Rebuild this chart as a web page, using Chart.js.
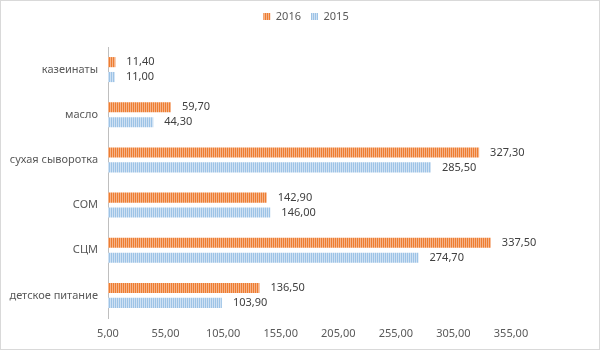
<!DOCTYPE html>
<html>
<head>
<meta charset="utf-8">
<script src="https://cdn.jsdelivr.net/npm/chart.js@4/dist/chart.umd.min.js"></script>
<style>
  html, body { margin: 0; padding: 0; background: #fff; }
  #wrap { width: 598px; height: 348px; border: 1px solid #d9d9d9; }
</style>
</head>
<body>
<div id="wrap"><canvas id="grafico" width="598" height="348"></canvas></div>
<script>
/* Datos */
const categorias = ['казеинаты', 'масло', 'сухая сыворотка', 'СОМ', 'СЦМ', 'детское питание'];
const valores2016 = [11.40, 59.70, 327.30, 142.90, 337.50, 136.50];
const valores2015 = [11.00, 44.30, 285.50, 146.00, 274.70, 103.90];
const series = ['2016', '2015'];
const ejeMin = 5;
const ejeMax = 355;
const ejePaso = 50;

/* Patron de rayas verticales */
function rayas(oscuro, claro) {
  const c = document.createElement('canvas');
  c.width = 2;
  c.height = 1;
  const g = c.getContext('2d');
  g.fillStyle = oscuro;
  g.fillRect(0, 0, 1, 1);
  g.fillStyle = claro;
  g.fillRect(1, 0, 1, 1);
  return g.createPattern(c, 'repeat');
}

const naranja = rayas('#ed7d31', '#f6b48a');
const azul = rayas('#9dc3e6', '#cfe1f3');

const fmt = (v) => v.toFixed(2).replace('.', ',');

/* Etiquetas de valores */
const etiquetas = {
  id: 'etiquetas',
  afterDatasetsDraw(chart) {
    const ctx = chart.ctx;
    ctx.save();
    ctx.font = '11px "Noto Sans", sans-serif';
    ctx.fillStyle = '#404040';
    ctx.textAlign = 'left';
    ctx.textBaseline = 'middle';
    chart.data.datasets.forEach((ds, i) => {
      chart.getDatasetMeta(i).data.forEach((bar, j) => {
        ctx.fillText(fmt(ds.data[j]), bar.x + 11, bar.y);
      });
    });
    ctx.restore();
  }
};

/* Leyenda: mas alta y centrada en todo el ancho */
const ajusteLeyenda = {
  id: 'ajusteLeyenda',
  beforeInit(chart) {
    const fitOrig = chart.legend.fit;
    chart.legend.fit = function () {
      fitOrig.bind(chart.legend)();
      this.height = 46;
    };
  },
  afterLayout(chart) {
    chart.legend.left = 12;
    chart.legend.right = 598;
    chart.legend.width = 586;
  }
};

const ctx = document.getElementById('grafico').getContext('2d');

new Chart(ctx, {
  type: 'bar',
  data: {
    labels: categorias,
    datasets: [
      { label: series[0], data: valores2016, backgroundColor: naranja, borderWidth: 0 },
      { label: series[1], data: valores2015, backgroundColor: azul, borderWidth: 0 }
    ]
  },
  options: {
    indexAxis: 'y',
    responsive: false,
    animation: false,
    categoryPercentage: 0.66,
    barPercentage: 0.68,
    layout: { padding: { top: 0, right: 88, left: 4, bottom: 0 } },
    scales: {
      x: {
        min: ejeMin,
        max: ejeMax,
        ticks: {
          stepSize: ejePaso,
          color: '#595959',
          font: { family: '"Noto Sans", sans-serif', size: 11 },
          padding: 9,
          callback: (v) => fmt(v)
        },
        grid: { display: false, drawTicks: false },
        border: { display: false },
        afterFit: (s) => { s.height = 31; }
      },
      y: {
        ticks: {
          color: '#595959',
          font: { family: '"Noto Sans", sans-serif', size: 11 },
          padding: 10
        },
        grid: { display: false, drawTicks: false },
        border: { display: true, color: '#bfbfbf' },
        afterFit: (s) => { s.width = 103; }
      }
    },
    plugins: {
      legend: {
        position: 'top',
        labels: {
          boxWidth: 7,
          boxHeight: 7,
          color: '#595959',
          font: { family: '"Noto Sans", sans-serif', size: 11 },
          padding: 10
        }
      },
      tooltip: { enabled: false }
    }
  },
  plugins: [etiquetas, ajusteLeyenda]
});
</script>
</body>
</html>
